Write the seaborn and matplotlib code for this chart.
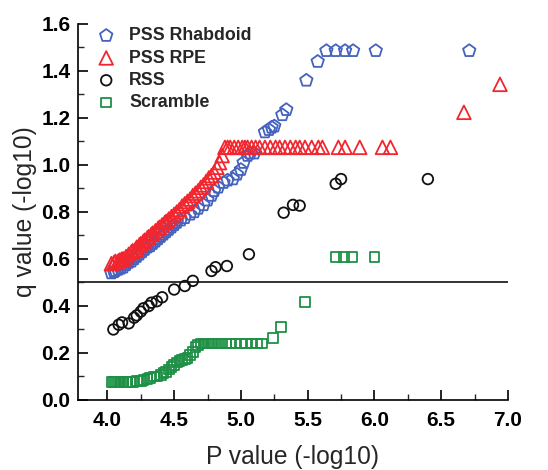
import matplotlib
matplotlib.use("Agg")
import matplotlib.pyplot as plt
import seaborn as sns
from matplotlib.ticker import MultipleLocator

# P value (-log10) and q value (-log10) for each motif set
rhabdoid_p = [4.03, 4.05, 4.06, 4.08, 4.10, 4.12, 4.14, 4.16, 4.18, 4.20, 4.22, 4.24,
              4.26, 4.28, 4.30, 4.32, 4.34, 4.36, 4.38, 4.40, 4.42, 4.44, 4.46, 4.48,
              4.50, 4.52, 4.55, 4.58, 4.62, 4.65, 4.68, 4.72, 4.75, 4.78, 4.80, 4.83,
              4.87, 4.90, 4.94, 4.97, 5.00, 5.02, 5.05, 5.07, 5.10, 5.18, 5.21, 5.23,
              5.25, 5.31, 5.34, 5.49, 5.575, 5.64, 5.71, 5.78, 5.84, 6.01, 6.71]
rhabdoid_q = [0.54, 0.545, 0.55, 0.555, 0.56, 0.565, 0.575, 0.585, 0.59, 0.60, 0.61, 0.62,
              0.63, 0.64, 0.65, 0.655, 0.665, 0.675, 0.685, 0.695, 0.705, 0.715, 0.725, 0.735,
              0.745, 0.755, 0.765, 0.775, 0.79, 0.80, 0.815, 0.83, 0.85, 0.87, 0.89, 0.905,
              0.925, 0.935, 0.94, 0.96, 0.98, 1.01, 1.04, 1.05, 1.05, 1.14, 1.15, 1.16,
              1.165, 1.213, 1.235, 1.36, 1.44, 1.486, 1.486, 1.486, 1.486, 1.486, 1.486]

rpe_p = [4.03, 4.05, 4.06, 4.08, 4.09, 4.10, 4.11, 4.12, 4.14, 4.16, 4.18, 4.19,
         4.21, 4.22, 4.24, 4.25, 4.27, 4.28, 4.30, 4.31, 4.33, 4.34, 4.36, 4.38,
         4.39, 4.41, 4.43, 4.44, 4.46, 4.48, 4.50, 4.52, 4.54, 4.56, 4.58, 4.60,
         4.62, 4.64, 4.66, 4.68, 4.70, 4.72, 4.74, 4.76, 4.78, 4.80, 4.82, 4.84, 4.86,
         4.88, 4.90, 4.92, 4.95, 4.98, 5.01, 5.03, 5.05, 5.08, 5.11, 5.14, 5.18,
         5.22, 5.26, 5.29, 5.33, 5.37, 5.41, 5.44, 5.48, 5.53, 5.58, 5.61, 5.73,
         5.78, 5.89, 6.06, 6.12, 6.67, 6.94]
rpe_q = [0.58, 0.585, 0.59, 0.59, 0.595, 0.595, 0.60, 0.60, 0.61, 0.62, 0.63, 0.635,
         0.64, 0.65, 0.66, 0.665, 0.675, 0.68, 0.69, 0.695, 0.705, 0.71, 0.72, 0.73,
         0.735, 0.745, 0.755, 0.76, 0.77, 0.78, 0.79, 0.80, 0.81, 0.825, 0.835, 0.845,
         0.855, 0.87, 0.88, 0.89, 0.905, 0.915, 0.93, 0.945, 0.955, 0.97, 0.99, 1.01, 1.04,
         1.075, 1.075, 1.075, 1.075, 1.075, 1.075, 1.075, 1.075, 1.075, 1.075, 1.075, 1.075,
         1.075, 1.075, 1.075, 1.075, 1.075, 1.075, 1.075, 1.075, 1.075, 1.075, 1.075, 1.075,
         1.075, 1.075, 1.075, 1.075, 1.224, 1.343]

rss_p = [4.045, 4.085, 4.11, 4.16, 4.20, 4.22, 4.25, 4.27, 4.31, 4.33, 4.37, 4.41,
         4.50, 4.58, 4.64, 4.78, 4.81, 4.895, 5.06, 5.32, 5.39, 5.44, 5.71, 5.75, 6.40]
rss_q = [0.30, 0.32, 0.33, 0.326, 0.35, 0.36, 0.376, 0.39, 0.40, 0.414, 0.42, 0.437,
         0.47, 0.485, 0.507, 0.549, 0.565, 0.57, 0.62, 0.797, 0.83, 0.827, 0.92, 0.94, 0.94]

scramble_p = [4.03, 4.05, 4.06, 4.08, 4.09, 4.11, 4.12, 4.14, 4.15, 4.17, 4.19,
              4.22, 4.25, 4.27, 4.30, 4.32, 4.35, 4.37, 4.40, 4.42, 4.44, 4.46, 4.48,
              4.50, 4.52, 4.54, 4.56, 4.58, 4.60, 4.62, 4.64, 4.66, 4.68, 4.70,
              4.72, 4.74, 4.76, 4.78, 4.80, 4.83, 4.86, 4.89, 4.92, 4.96, 5.00, 5.04,
              5.08, 5.12, 5.16, 5.24, 5.30, 5.48, 5.71, 5.77, 5.83, 6.00]
scramble_q = [0.075, 0.075, 0.075, 0.075, 0.075, 0.075, 0.075, 0.075, 0.075, 0.075, 0.075,
              0.08, 0.08, 0.085, 0.09, 0.095, 0.10, 0.10, 0.105, 0.115, 0.12, 0.13, 0.14,
              0.15, 0.16, 0.165, 0.17, 0.175, 0.18, 0.19, 0.205, 0.225, 0.235, 0.24,
              0.24, 0.24, 0.24, 0.24, 0.24, 0.24, 0.24, 0.24, 0.24, 0.24, 0.24, 0.24,
              0.24, 0.24, 0.24, 0.265, 0.31, 0.418, 0.607, 0.607, 0.607, 0.607]

series_names = ["PSS Rhabdoid", "PSS RPE", "RSS", "Scramble"]
x_ticks = [4.0, 4.5, 5.0, 5.5, 6.0, 6.5, 7.0]
y_ticks = [0.0, 0.2, 0.4, 0.6, 0.8, 1.0, 1.2, 1.4, 1.6]
threshold = 0.5

sns.set_theme(style="ticks")
plt.rcParams["font.family"] = ["Liberation Sans", "DejaVu Sans"]

fig = plt.figure(figsize=(5.48, 4.70), dpi=100)
ax = fig.add_axes([0.1423, 0.149, 0.7847, 0.800])

styles = [
    (rhabdoid_p, rhabdoid_q, "p", "#4462BE", 9.4),
    (rpe_p, rpe_q, "^", "#F2262E", 9.8),
    (rss_p, rss_q, "o", "#111111", 7.6),
    (scramble_p, scramble_q, "s", "#1E9045", 7.0),
]
for name, (px, qy, marker, color, ms) in zip(series_names, styles):
    sns.scatterplot(x=px, y=qy, marker=marker, s=ms ** 2, facecolor="none",
                    edgecolor=color, linewidth=1.3, label=name, ax=ax, zorder=3)

ax.axhline(threshold, color="#222222", lw=1.3, zorder=1)

ax.set_xlim(3.78, 7.0)
ax.set_ylim(0.0, 1.6)
ax.set_xticks(x_ticks)
ax.set_yticks(y_ticks)
ax.set_xticklabels([f"{v:.1f}" for v in x_ticks])
ax.set_yticklabels([f"{v:.1f}" for v in y_ticks])
ax.xaxis.set_minor_locator(MultipleLocator(0.25))
ax.yaxis.set_minor_locator(MultipleLocator(0.1))
ax.tick_params(which="major", direction="in", length=7, width=1.2, labelsize=15,
               colors="black")
ax.tick_params(axis="x", which="major", pad=8)
ax.tick_params(axis="y", which="major", pad=5.5)
ax.tick_params(which="minor", direction="in", length=4, width=1.0)
for lbl in ax.get_xticklabels() + ax.get_yticklabels():
    lbl.set_fontweight("bold")

for side in ("left", "bottom"):
    ax.spines[side].set_linewidth(1.2)
    ax.spines[side].set_color("black")
sns.despine(ax=ax)

ax.set_xlabel("P value (-log10)", fontsize=17.7, labelpad=10.5)
ax.set_ylabel("q value (-log10)", fontsize=17.7, labelpad=3)

leg = ax.legend(loc="upper left", bbox_to_anchor=(0.1776, 0.942),
                bbox_transform=fig.transFigure, frameon=False, borderpad=0,
                borderaxespad=0, handlelength=1.0, handletextpad=0.8,
                labelspacing=0.3, prop={"weight": "bold", "size": 12.8})

fig.savefig("out.png", dpi=100)
